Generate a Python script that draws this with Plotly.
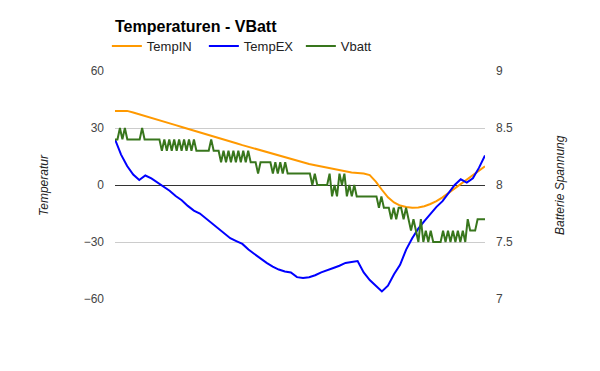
import plotly.graph_objects as go

title_text = "Temperaturen - VBatt"
series_names = ["TempIN", "TempEX", "Vbatt"]

# time index for temperature samples
t_temp = list(range(62))

temp_in = [39, 39, 39, 38.2, 37.3, 36.4, 35.4, 34.5, 33.4, 32.5,
           31.5, 30.5, 29.6, 28.6, 27.7, 26.7, 25.8, 24.8, 23.9, 22.9,
           22.0, 21.0, 20.1, 19.1, 18.1, 17.2, 16.2, 15.3, 14.3, 13.4,
           12.5, 11.8, 11.1, 10.4, 9.7, 9.0, 8.3, 7.6, 7.0, 6.6,
           6.3, 6.0, 5.2, 1.8, -2.5, -6.5, -9.2, -10.8, -11.6, -12,
           -11.8, -11.2, -10, -8.5, -6.5, -4.2, -1.8, 0.6, 3, 5,
           7.2, 9.8]

temp_ex = [24, 16, 10, 5.5, 2.6, 5, 3.5, 1.2, -0.8, -3,
           -5.8, -8, -11, -13.5, -15, -17.5, -20.5, -23, -25.5, -28,
           -29.5, -31, -34, -36.5, -38.5, -41, -43, -44.5, -45.5, -46,
           -48.5, -49, -48.5, -47.5, -46, -45, -43.7, -42.5, -41, -40.5,
           -40, -46, -50, -53, -56, -53, -47, -42, -34, -28,
           -23, -19, -15, -11.5, -8.5, -4, 0, 3, 1.3, 3.5,
           9, 15.5]

# time index for battery samples (finer resolution)
t_vbatt = [i * 61 / 150 for i in range(151)]

vbatt = [8.4, 8.4, 8.5, 8.4, 8.5, 8.4, 8.4, 8.4, 8.4, 8.4,
         8.4, 8.5, 8.4, 8.4, 8.4, 8.4, 8.4, 8.4, 8.4, 8.3,
         8.4, 8.3, 8.4, 8.3, 8.4, 8.3, 8.4, 8.3, 8.4, 8.3,
         8.4, 8.3, 8.4, 8.3, 8.3, 8.3, 8.3, 8.3, 8.3, 8.4,
         8.3, 8.3, 8.3, 8.2, 8.3, 8.2, 8.3, 8.2, 8.3, 8.2,
         8.3, 8.2, 8.3, 8.2, 8.3, 8.2, 8.2, 8.2, 8.1, 8.2,
         8.2, 8.2, 8.2, 8.2, 8.1, 8.2, 8.1, 8.2, 8.1, 8.2,
         8.1, 8.1, 8.1, 8.1, 8.1, 8.1, 8.1, 8.1, 8.1, 8.1,
         8.0, 8.1, 8.0, 8.0, 8.0, 8.0, 8.0, 8.1, 7.9, 8.0,
         7.9, 8.1, 8.0, 8.1, 7.9, 8.0, 7.9, 8.0, 7.9, 7.9,
         7.9, 7.9, 7.9, 7.9, 7.9, 7.9, 7.9, 7.8, 7.9, 7.8,
         7.8, 7.8, 7.7, 7.8, 7.7, 7.8, 7.8, 7.7, 7.8, 7.7,
         7.6, 7.7, 7.6, 7.5, 7.7, 7.5, 7.6, 7.5, 7.6, 7.5,
         7.5, 7.5, 7.5, 7.6, 7.5, 7.6, 7.5, 7.6, 7.5, 7.6,
         7.5, 7.6, 7.5, 7.7, 7.6, 7.6, 7.6, 7.7, 7.7, 7.7,
         7.7]

temp_ticks = [-60, -30, 0, 30, 60]
volt_ticks = [7, 7.5, 8, 8.5, 9]
volt_tick_labels = ["7", "7.5", "8", "8.5", "9"]

colors = ["#FF9900", "#0000FF", "#38761D"]
font_family = "Arial, Liberation Sans, sans-serif"

fig = go.Figure()
fig.add_trace(go.Scatter(x=t_temp, y=temp_in, name=series_names[0], mode="lines",
                         line=dict(color=colors[0], width=2)))
fig.add_trace(go.Scatter(x=t_temp, y=temp_ex, name=series_names[1], mode="lines",
                         line=dict(color=colors[1], width=2)))
fig.add_trace(go.Scatter(x=t_vbatt, y=vbatt, name=series_names[2], mode="lines",
                         line=dict(color=colors[2], width=2), yaxis="y2"))

fig.update_layout(
    width=600, height=371,
    margin=dict(l=115, r=115, t=71, b=72),
    paper_bgcolor="white", plot_bgcolor="white",
    font=dict(family=font_family, size=12, color="#444444"),
    title=dict(text="<b>" + title_text + "</b>", x=115 / 600, xanchor="left",
               y=1 - 26 / 371, yanchor="middle",
               font=dict(family=font_family, size=16, color="#000000")),
    legend=dict(orientation="h", x=-0.022, xanchor="left", y=1 + 25 / 228, yanchor="middle",
                font=dict(family=font_family, size=13, color="#222222"),
                entrywidth=52, entrywidthmode="pixels",
                bgcolor="rgba(0,0,0,0)", traceorder="normal"),
    showlegend=True,
    xaxis=dict(range=[0, 61], showgrid=False, zeroline=False, showticklabels=False,
               showline=False, fixedrange=True),
    yaxis=dict(range=[-60, 60], tickvals=temp_ticks, showgrid=True, gridcolor="#CCCCCC",
               gridwidth=1, zeroline=True, zerolinecolor="#333333", zerolinewidth=1,
               showline=False, ticks="", ticklabelstandoff=10,
               tickfont=dict(size=12, color="#444444")),
    yaxis2=dict(range=[7, 9], tickvals=volt_ticks, ticktext=volt_tick_labels,
                overlaying="y", side="right", showgrid=False, zeroline=False,
                showline=False, ticks="", ticklabelstandoff=10,
                tickfont=dict(size=12, color="#444444")),
    annotations=[
        dict(text="<i>Temperatur</i>", xref="paper", yref="paper", x=(44 - 115) / 370,
             y=0.5, xanchor="center", yanchor="middle", textangle=-90, showarrow=False,
             font=dict(family=font_family, size=12, color="#222222")),
        dict(text="<i>Batterie Spannung</i>", xref="paper", yref="paper", x=(560 - 115) / 370,
             y=0.5, xanchor="center", yanchor="middle", textangle=-90, showarrow=False,
             font=dict(family=font_family, size=12, color="#222222")),
    ],
)

fig.write_html("out.html", config={"displayModeBar": False},
               post_script="document.body.style.margin='0';document.body.style.padding='0';")
